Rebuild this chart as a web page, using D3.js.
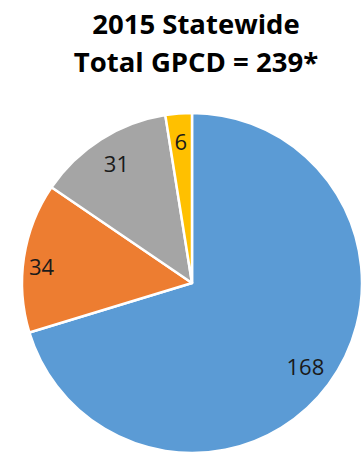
<!DOCTYPE html>
<html>
<head>
<meta charset="utf-8">
<script src="https://cdn.jsdelivr.net/npm/d3@7"></script>
<style>
  html, body { margin: 0; padding: 0; background: #fff; }
  svg { display: block; }
</style>
</head>
<body>
<svg id="chart" width="361" height="460"></svg>
<script>
// GPCD components (gallons per capita per day), drawn clockwise from 12 o'clock
const categories = ["Residential", "Commercial/Institutional", "Industrial", "Other"];
const values = [168, 34, 31, 6];
const colors = ["#5B9BD5", "#ED7D31", "#A5A5A5", "#FFC000"];
const titleLines = ["2015 Statewide", "Total GPCD = 239*"];

const width = 361, height = 460;
const cx = 192, cy = 283, radius = 170;

const svg = d3.select("#chart");

// Title
svg.append("text")
  .attr("text-anchor", "middle")
  .attr("font-family", "'Open Sans', sans-serif")
  .attr("font-weight", "bold")
  .attr("font-size", 27.5)
  .attr("fill", "#000")
  .selectAll("tspan")
  .data(titleLines)
  .join("tspan")
  .attr("x", 196)
  .attr("y", (d, i) => 34 + i * 38)
  .text(d => d);

const data = categories.map((c, i) => ({ category: c, value: values[i], color: colors[i] }));

const pie = d3.pie().value(d => d.value).sort(null);
const arc = d3.arc().innerRadius(0).outerRadius(radius);
const labelArc = d3.arc().innerRadius(radius * 0.83).outerRadius(radius * 0.83);

const g = svg.append("g").attr("transform", `translate(${cx},${cy})`);
const arcs = pie(data);

g.selectAll("path")
  .data(arcs)
  .join("path")
  .attr("d", arc)
  .attr("fill", d => d.data.color)
  .attr("stroke", "#fff")
  .attr("stroke-width", 2.5)
  .attr("stroke-linejoin", "round");

// small nudges for label placement on narrow wedges
const nudge = { 1: [-11, 5] };

g.selectAll("text.lbl")
  .data(arcs)
  .join("text")
  .attr("class", "lbl")
  .attr("transform", (d, i) => {
    const [x, y] = labelArc.centroid(d);
    const n = nudge[i] || [0, 0];
    return `translate(${x + n[0]},${y + n[1]})`;
  })
  .attr("text-anchor", "middle")
  .attr("dy", "0.36em")
  .attr("font-family", "'Open Sans', sans-serif")
  .attr("font-size", 22)
  .attr("fill", "#1a1a1a")
  .text(d => d.data.value);
</script>
</body>
</html>
